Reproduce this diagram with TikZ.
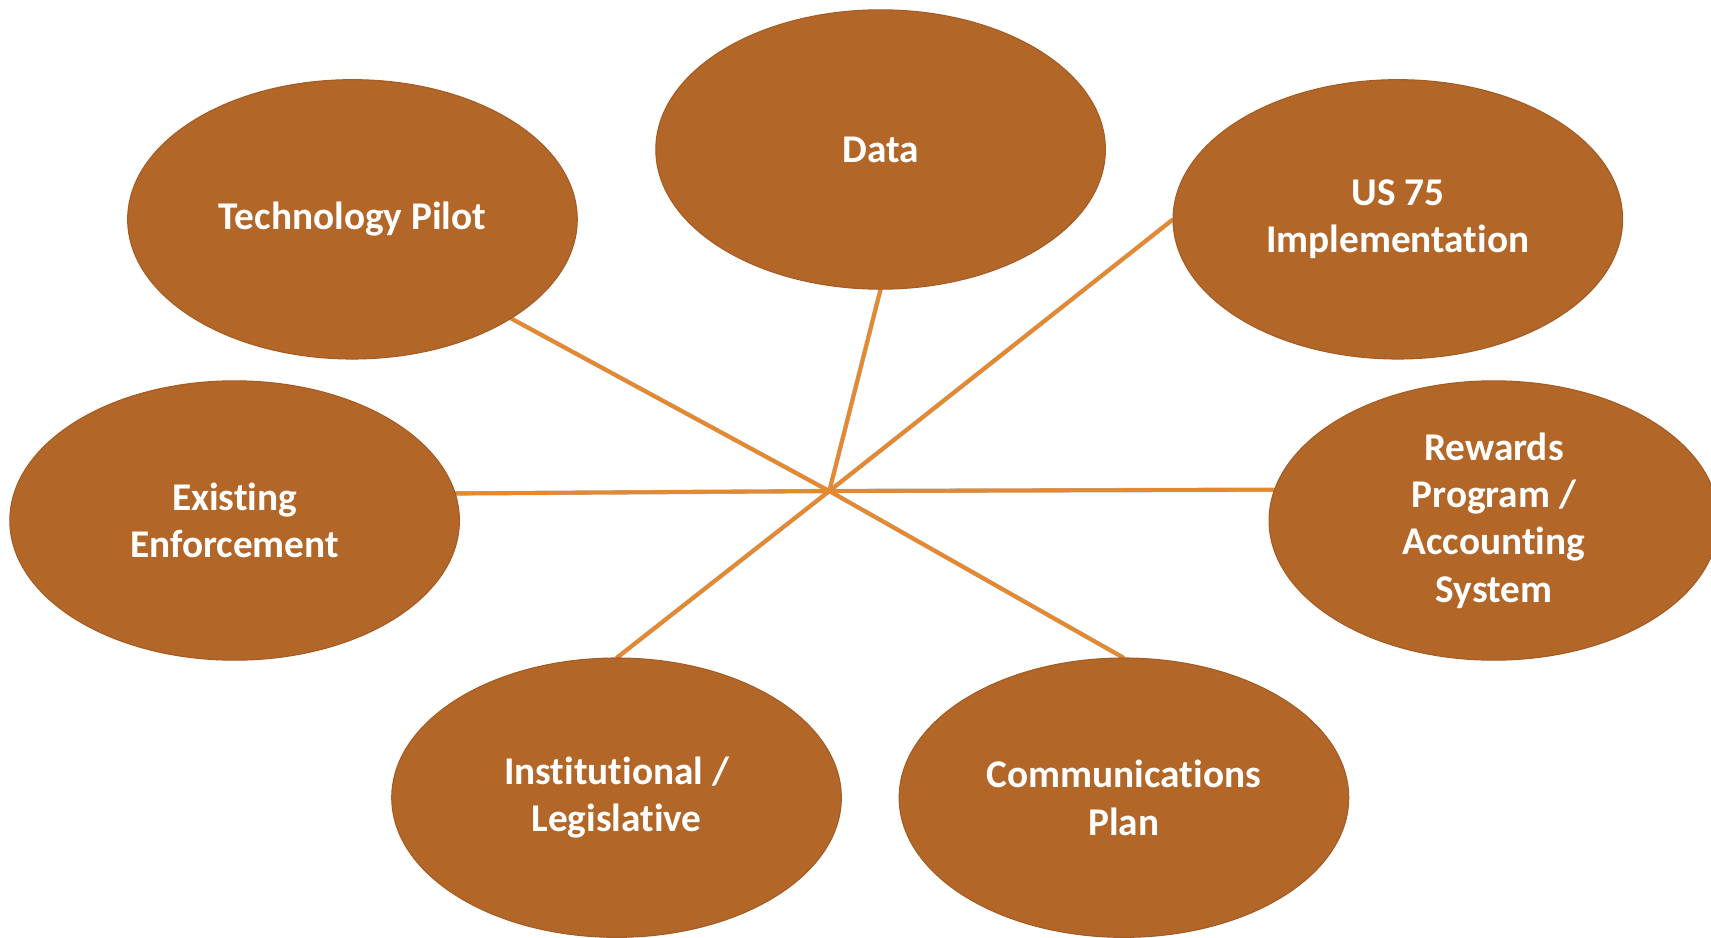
\documentclass[tikz,border=0pt]{standalone}
\usepackage{fontspec}
\setmainfont{Carlito}[Ligatures=NoCommon]
\usepackage{tikz}
\usetikzlibrary{shapes.geometric,backgrounds}
\definecolor{copper}{RGB}{178, 103, 41}
\definecolor{copperedge}{RGB}{165, 92, 36}
\definecolor{tangerine}{RGB}{230, 137, 46}
\tikzset{
    topic/.style={ellipse, fill=copper, draw=copperedge, line width=1pt,
                  minimum width=412pt, minimum height=256pt, inner sep=0pt, outer sep=0pt,
                  text=white, align=center,
                  font=\fontsize{36}{43.5}\selectfont\bfseries},
    spoke/.style={tangerine, line width=3.5pt},
    spokeshade/.style={black!55, opacity=0.55, line width=4pt}
}

\begin{document}
\begin{tikzpicture}[x=1pt, y=-1pt]
            % Frame to fix the page:
            \useasboundingbox                                                 (0, 0) rectangle (1568, 859.6);
            % Hub
            \coordinate (hub)                                                 at (760, 450);
            % Topics (placed first so the spokes can reach their borders)
            \path
                (323, 201) node[topic] (tech) {Technology Pilot}
                (807, 137) node[topic] (data) {Data}
                (1281, 201) node[topic] (us)  {US 75\\Implementation}
                (215, 477) node[topic] (exist) {Existing\\Enforcement}
                (1369, 477) node[topic] (rew) {Rewards\\Program /\\Accounting\\System}
                (565, 731) node[topic] (inst) {Institutional /\\Legislative}
                (1030, 731) node[topic] (comm) {Communications\\Plan};
            % Spokes with their shadows, under the topics
            \begin{pgfonlayer}{background}
            \begin{scope}[shift={(2.5, 3)}]
                \draw[spokeshade] (hub) -- (tech.-32);
                \draw[spokeshade] (hub) -- (data.south);
                \draw[spokeshade] (hub) -- (us.west);
                \draw[spokeshade] (hub) -- (exist.7);
                \draw[spokeshade] (hub) -- (rew.172);
                \draw[spokeshade] (hub) -- (inst.north);
                \draw[spokeshade] (hub) -- (comm.north);
            \end{scope}
            \draw[spoke] (hub) -- (tech.-32);
            \draw[spoke] (hub) -- (data.south);
            \draw[spoke] (hub) -- (us.west);
            \draw[spoke] (hub) -- (exist.7);
            \draw[spoke] (hub) -- (rew.172);
            \draw[spoke] (hub) -- (inst.north);
            \draw[spoke] (hub) -- (comm.north);
            \end{pgfonlayer}
\end{tikzpicture}
\end{document}
